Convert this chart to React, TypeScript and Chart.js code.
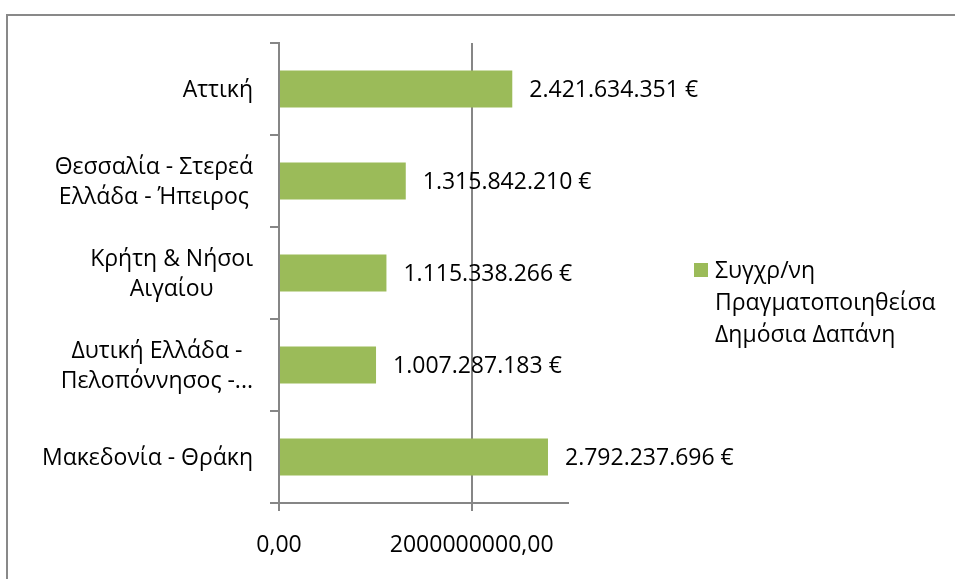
import React, { useEffect, useRef } from 'react';
import { Chart, registerables } from 'chart.js';

Chart.register(...registerables);

// ---- data ----
const CATEGORIES: string[][] = [
  ['Αττική'],
  ['Θεσσαλία - Στερεά', 'Ελλάδα - Ήπειρος'],
  ['Κρήτη & Νήσοι', 'Αιγαίου'],
  ['Δυτική Ελλάδα -', 'Πελοπόννησος -...'],
  ['Μακεδονία - Θράκη'],
];
const SERIES_NAME_LINES: string[] = ['Συγχρ/νη', 'Πραγματοποιηθείσα', 'Δημόσια Δαπάνη'];
const SERIES_VALUES: number[] = [2421634351, 1315842210, 1115338266, 1007287183, 2792237696];
const X_TICK_VALUES: number[] = [0, 2000000000];
const X_TICK_LABELS: string[] = ['0,00', '2000000000,00'];
const X_MIN = 0;
const X_MAX = 3000000000;

// ---- styles ----
const FONT_FAMILY = "'Open Sans', sans-serif";
const FONT_SIZE = 23;
const CAP_H = FONT_SIZE * 0.714;
const TEXT_COLOR = '#000000';
const BAR_COLOR = '#9BBB59';
const LINE_COLOR = '#868686';

function formatEuro(v: number): string {
  return String(Math.round(v)).replace(/\B(?=(\d{3})+(?!\d))/g, '.') + ' €';
}

const customText = {
  id: 'customText',
  afterDraw(chart: any) {
    const ctx = chart.ctx as CanvasRenderingContext2D;
    const area = chart.chartArea;
    const yScale = chart.scales.y;
    ctx.save();
    ctx.font = `${FONT_SIZE}px ${FONT_FAMILY}`;
    ctx.fillStyle = TEXT_COLOR;
    ctx.textBaseline = 'alphabetic';

    // category labels: block right-aligned, lines centred
    ctx.textAlign = 'center';
    const right = area.left - 26;
    CATEGORIES.forEach((lines, i) => {
      const cy = yScale.getPixelForTick(i);
      const w = Math.max(...lines.map((l) => ctx.measureText(l).width));
      const cx = right - w / 2;
      const n = lines.length;
      lines.forEach((l, j) => {
        const lc = cy + (j - (n - 1) / 2) * 30;
        ctx.fillText(l, cx, lc + CAP_H / 2);
      });
    });

    // value labels
    ctx.textAlign = 'left';
    const meta = chart.getDatasetMeta(0);
    meta.data.forEach((bar: any, i: number) => {
      ctx.fillText(formatEuro(SERIES_VALUES[i]), bar.x + 17, bar.y + CAP_H / 2);
    });

    // legend
    const lx = area.right + 126;
    const ly = 247;
    ctx.fillStyle = BAR_COLOR;
    ctx.fillRect(lx, ly, 14, 14);
    ctx.fillStyle = TEXT_COLOR;
    SERIES_NAME_LINES.forEach((l, j) => {
      ctx.fillText(l, lx + 21, ly + 7 + CAP_H / 2 + j * 32);
    });
    ctx.restore();
  },
};

export default function App() {
  const ref = useRef<HTMLCanvasElement | null>(null);

  useEffect(() => {
    if (!ref.current) return;
    const chart = new Chart(ref.current, {
      type: 'bar',
      data: {
        labels: CATEGORIES,
        datasets: [
          {
            label: SERIES_NAME_LINES.join(' '),
            data: SERIES_VALUES,
            backgroundColor: BAR_COLOR,
            borderWidth: 0,
            barPercentage: 0.4,
            categoryPercentage: 1,
          },
        ],
      },
      options: {
        indexAxis: 'y',
        responsive: false,
        animation: false,
        layout: { padding: { left: 0, top: 27, right: 387, bottom: 0 } },
        plugins: {
          legend: { display: false },
          tooltip: { enabled: false },
        },
        scales: {
          x: {
            type: 'linear',
            min: X_MIN,
            max: X_MAX,
            afterBuildTicks: (s: any) => {
              s.ticks = X_TICK_VALUES.map((v) => ({ value: v }));
            },
            afterFit: (s: any) => {
              s.height = 76;
            },
            grid: {
              color: LINE_COLOR,
              lineWidth: 2,
              drawOnChartArea: true,
              drawTicks: true,
              tickLength: 8,
            },
            border: { display: true, color: LINE_COLOR, width: 2 },
            ticks: {
              autoSkip: false,
              maxRotation: 0,
              color: TEXT_COLOR,
              padding: 21,
              font: { family: FONT_FAMILY, size: FONT_SIZE },
              callback: (_v: any, i: number) => X_TICK_LABELS[i],
            },
          },
          y: {
            type: 'category',
            afterFit: (s: any) => {
              s.width = 271;
            },
            grid: {
              color: LINE_COLOR,
              lineWidth: 2,
              drawOnChartArea: false,
              drawTicks: true,
              tickLength: 9,
              offset: true,
            },
            border: { display: true, color: LINE_COLOR, width: 2 },
            ticks: { display: false },
          },
        },
      },
      plugins: [customText],
    });
    return () => chart.destroy();
  }, []);

  return (
    <div
      style={{
        position: 'fixed',
        left: 0,
        top: 0,
        width: 955,
        height: 579,
        overflow: 'hidden',
        background: '#ffffff',
      }}
    >
      <div
        style={{
          position: 'absolute',
          left: 6,
          top: 14,
          width: 1000,
          height: 640,
          border: '2px solid #898989',
          boxSizing: 'border-box',
        }}
      >
        <canvas
          ref={ref}
          width={947}
          height={563}
          style={{ position: 'absolute', left: 0, top: 0, width: 947, height: 563 }}
        />
      </div>
    </div>
  );
}
